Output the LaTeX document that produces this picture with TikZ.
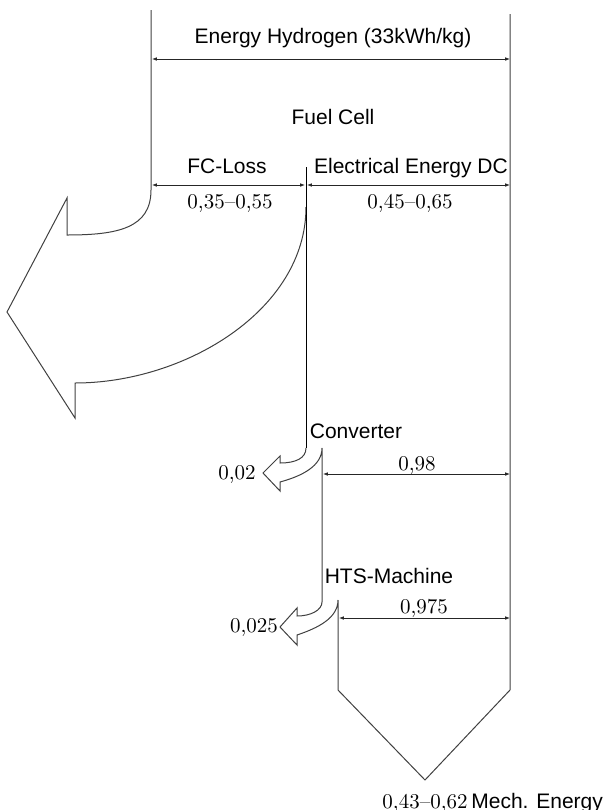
\documentclass[tikz,border=0pt]{standalone}
\usepackage{fontspec}
\newfontfamily\labelfont{Liberation Sans}
\usetikzlibrary{arrows.meta}
\begin{document}
\begin{tikzpicture}[x=0.5pt,y=-0.5pt,
  flow/.style={draw=black!75,line width=0.5pt,line join=miter},
  divider/.style={draw=black,line width=0.5pt},
  dim/.style={draw=black!85,line width=0.4pt,{Latex[length=2.4pt,width=1.8pt]}-{Latex[length=2.4pt,width=1.8pt]}},
  lbl/.style={inner sep=0pt,anchor=base,font=\labelfont\fontsize{10.5}{12}\selectfont},
  num/.style={inner sep=0pt,anchor=base,font=\fontsize{10.5}{12}\selectfont}]
\useasboundingbox (0,0) rectangle (606,810);
% main flow outline
\draw[flow] (151,10) -- (151,190) .. controls (151,228) and (118,235) .. (67,235)
  -- (67,198) -- (7,312) -- (75,418) -- (75,383)
  .. controls (185,383) and (306,310) .. (306,207);
\draw[divider] (306,167) -- (306,448);
\draw[flow] (306,448) .. controls (306,458) and (296,463) .. (280,463)
  -- (280,456) -- (263,473) -- (280,491) -- (280,482)
  .. controls (302,476) and (322,466) .. (322,448) -- (322,602)
  .. controls (322,610) and (311,616) .. (297,616)
  -- (297,608) -- (280,627) -- (297,645) -- (297,635)
  .. controls (318,628) and (338,618) .. (338,600) -- (338,690)
  -- (425,780) -- (510,690) -- (510,14);
% coordinates for dimension lines
\coordinate (topL) at (152,59);  \coordinate (topR) at (510,59);
\coordinate (fcL) at (152,185);  \coordinate (fcR) at (305,185);
\coordinate (elL) at (307,185);  \coordinate (elR) at (510,185);
\coordinate (cvL) at (323,474);  \coordinate (cvR) at (510,474);
\coordinate (hmL) at (339,618);  \coordinate (hmR) at (510,618);
\draw[dim] (topL) -- (topR);
\draw[dim] (fcL) -- (fcR);
\draw[dim] (elL) -- (elR);
\draw[dim] (cvL) -- (cvR);
\draw[dim] (hmL) -- (hmR);
% labels
\node[lbl] (eh) at (333,43) {Energy Hydrogen (33kWh/kg)};
\node[lbl] (fc) at (333,124) {Fuel Cell};
\node[lbl] (fcl) at (227,173) {FC-Loss};
\node[lbl] (ed) at (411,173) {Electrical Energy DC};
\node[num] (fcv) at (230,208) {0,35--0,55};
\node[num] (edv) at (410,208) {0,45--0,65};
\node[lbl] (cv) at (356,438) {Converter};
\node[num] (cvv) at (417,470) {0,98};
\node[num] (cvl) at (237,479) {0,02};
\node[lbl] (hm) at (389,583) {HTS-Machine};
\node[num] (hmv) at (424,613) {0,975};
\node[num] (hml) at (254,632) {0,025};
\node[num] (me) at (425,808) {0,43--0,62};
\node[lbl,anchor=base west] (mel) at ([xshift=1.5pt]me.base east) {Mech. Energy};
\end{tikzpicture}
\end{document}
